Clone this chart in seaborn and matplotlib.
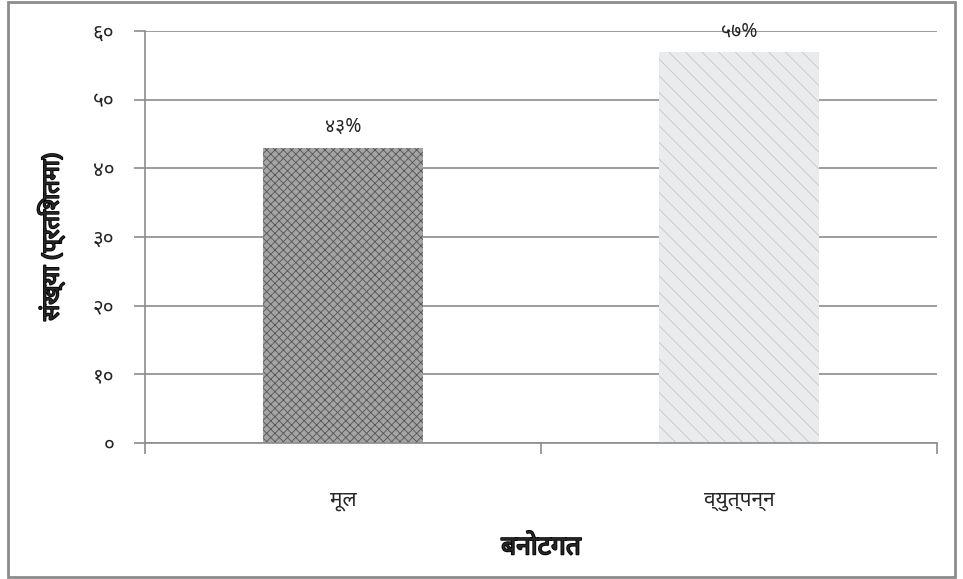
import matplotlib
matplotlib.use("Agg")
import matplotlib.pyplot as plt
import matplotlib.patheffects as pe
import seaborn as sns
import pandas as pd
from matplotlib.patches import Rectangle

categories = ["मूल", "व्युत्पन्न"]
values = [43, 57]
value_labels = ["४३%", "५७%"]
yticks = [0, 10, 20, 30, 40, 50, 60]
ytick_labels = ["०", "१०", "२०", "३०", "४०", "५०", "६०"]
xlabel = "बनोटगत"
ylabel = "संख्या (प्रतिशतमा)"

sns.set_style("white")
plt.rcParams["font.family"] = ["Noto Sans", "DejaVu Sans"]
plt.rcParams["hatch.linewidth"] = 0.6

df = pd.DataFrame({"cat": categories, "val": values})

fig = plt.figure(figsize=(9.63, 5.79), dpi=100)
ax = fig.add_axes([0.1506, 0.2349, 0.8224, 0.7116])

sns.barplot(data=df, x="cat", y="val", hue="cat", palette=["#a4a4a4", "#e9ebed"],
            width=0.404, legend=False, ax=ax, saturation=1)

hatches = ["xxxx", "\\\\"]
hatch_cols = ["#555555", "#c4c6c8"]
for p, h, c in zip(ax.patches, hatches, hatch_cols):
    p.set_hatch(h)
    p.set_edgecolor(c)
    p.set_linewidth(0)

ax.set_ylim(0, 60)
ax.set_xlim(-0.5, 1.5)
ax.set_yticks(yticks)
ax.set_yticklabels(ytick_labels, fontsize=15)
ax.yaxis.grid(True, color="#8c8c8c", linewidth=1.2)
ax.set_axisbelow(True)

ax.set_xticks([-0.5, 0.5, 1.5])
ax.set_xticklabels([])
ax.set_xticks([0, 1], minor=True)
ax.set_xticklabels(categories, minor=True, fontsize=15)
ax.tick_params(axis="x", which="minor", bottom=False, length=0, pad=34)
ax.tick_params(axis="x", which="major", bottom=True, length=8, width=1.2,
               color="#8c8c8c", direction="out")
ax.tick_params(axis="y", left=True, length=8, width=1.2, color="#8c8c8c",
               direction="out", pad=14)

for s in ["top", "right"]:
    ax.spines[s].set_visible(False)
for s in ["left", "bottom"]:
    ax.spines[s].set_color("#8c8c8c")
    ax.spines[s].set_linewidth(1.2)

ax.bar_label(ax.containers[0], labels=[value_labels[0]], padding=8, fontsize=14)
ax.bar_label(ax.containers[1], labels=[value_labels[1]], padding=7, fontsize=14)

bold = [pe.withStroke(linewidth=1.2, foreground="black")]
ax.set_xlabel(xlabel, fontsize=19, fontweight="bold", labelpad=16, path_effects=bold)
ax.set_ylabel(ylabel, fontsize=17, fontweight="bold", labelpad=20, path_effects=bold)

fig.patches.append(Rectangle((0.008, 0.004), 0.984, 0.992, transform=fig.transFigure,
                             fill=False, edgecolor="#8c8c8c", linewidth=2))

fig.savefig("out.png", dpi=100)
